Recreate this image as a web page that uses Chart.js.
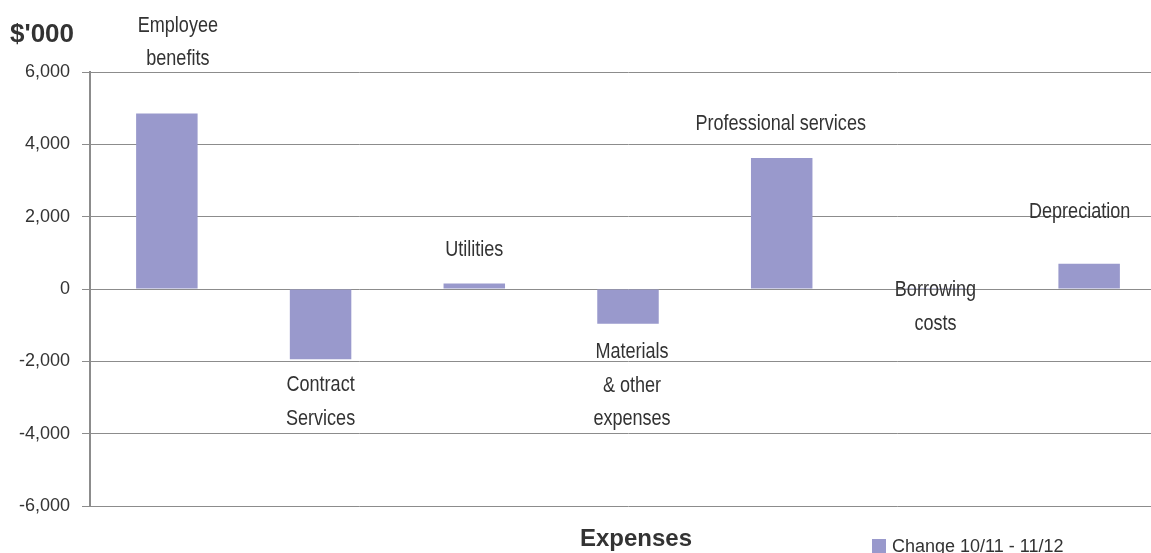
<!DOCTYPE html>
<html>
<head>
<meta charset="utf-8">
<script src="https://cdn.jsdelivr.net/npm/chart.js@4"></script>
<style>
  html, body { margin: 0; padding: 0; background: #fff; overflow: hidden; }
  #wrap { width: 1166px; height: 553px; }
</style>
</head>
<body>
<div id="wrap"><canvas id="expChart" width="1166" height="553"></canvas></div>
<script>
// expense categories and the year-on-year change ($'000)
const categories = ['Employee benefits', 'Contract Services', 'Utilities', 'Materials & other expenses',
                    'Professional services', 'Borrowing costs', 'Depreciation'];
const labelLines = [['Employee', 'benefits'], ['Contract', 'Services'], ['Utilities'],
                    ['Materials', '& other', 'expenses'], ['Professional services'],
                    ['Borrowing', 'costs'], ['Depreciation']];
const changeValues = [4850, -1940, 150, -960, 3620, 30, 700];
const yTicks = [-6000, -4000, -2000, 0, 2000, 4000, 6000];
const seriesName = 'Change 10/11 - 11/12';
const axisTitle = 'Expenses';
const unitLabel = "$'000";

const BAR_COLOR = '#9999cc';
const TEXT_COLOR = '#333';

// category labels sit next to the end of each bar; squeezed horizontally
// to get a narrow face out of the regular one
const barLabels = {
    id: 'barLabels',
    afterDatasetsDraw(chart, args, opts) {
        const ctx = chart.ctx;
        const bars = chart.getDatasetMeta(0).data;
        ctx.save();
        ctx.font = opts.font;
        ctx.fillStyle = opts.color;
        ctx.textAlign = 'center';
        ctx.textBaseline = 'middle';
        bars.forEach((bar, i) => {
            const p = opts.offsets[i];
            labelLines[i].forEach((line, k) => {
                ctx.save();
                ctx.translate(bar.x + p.dx, bar.y + p.dy + k * opts.lineHeight);
                ctx.scale(opts.squeeze, 1);
                ctx.fillText(line, 0, 0);
                ctx.restore();
            });
        });
        ctx.restore();
    }
};

// unit label, axis title and the single legend entry
const chartText = {
    id: 'chartText',
    afterDraw(chart) {
        const ctx = chart.ctx;
        ctx.save();
        ctx.fillStyle = TEXT_COLOR;
        ctx.textBaseline = 'alphabetic';

        ctx.font = 'bold 26px "Liberation Sans", Arial, sans-serif';
        ctx.textAlign = 'left';
        ctx.fillText(unitLabel, 10, 42);

        ctx.font = 'bold 24px "Liberation Sans", Arial, sans-serif';
        ctx.textAlign = 'center';
        ctx.fillText(axisTitle, 636, 546);

        ctx.fillStyle = BAR_COLOR;
        ctx.fillRect(872, 539, 14, 14);
        ctx.fillStyle = TEXT_COLOR;
        ctx.font = '18px "Liberation Sans", Arial, sans-serif';
        ctx.textAlign = 'left';
        ctx.fillText(chart.data.datasets[0].label, 892, 552);
        ctx.restore();
    }
};

new Chart(document.getElementById('expChart'), {
    type: 'bar',
    data: {
        labels: categories,
        datasets: [{
            label: seriesName,
            data: changeValues,
            backgroundColor: BAR_COLOR,
            borderWidth: 0,
            barPercentage: 0.4,
            categoryPercentage: 1
        }]
    },
    options: {
        responsive: false,
        animation: false,
        layout: { padding: { top: 72, bottom: 47, left: 0, right: 0 } },
        plugins: {
            legend: { display: false },
            tooltip: { enabled: false },
            barLabels: {
                font: '22px "Liberation Sans", Arial, sans-serif',
                squeeze: 0.82,
                color: TEXT_COLOR,
                lineHeight: 33.5,
                offsets: [
                    { dx: 11, dy: -88 },
                    { dx: 0, dy: 26 },
                    { dx: 0, dy: -33.5 },
                    { dx: 4, dy: 28.5 },
                    { dx: -1, dy: -34 },
                    { dx: 0, dy: 2.5 },
                    { dx: -9.5, dy: -51.5 }
                ]
            }
        },
        scales: {
            x: {
                display: false
            },
            y: {
                min: yTicks[0],
                max: yTicks[yTicks.length - 1],
                afterFit: (scale) => { scale.width = 90; },
                afterBuildTicks: (scale) => { scale.ticks = yTicks.map(v => ({ value: v })); },
                ticks: {
                    padding: 12,
                    color: TEXT_COLOR,
                    font: { family: '"Liberation Sans", Arial, sans-serif', size: 18 },
                    callback: (v) => v.toLocaleString('en-US')
                },
                grid: { color: '#8c8c8c', lineWidth: 1, tickLength: 8 },
                border: { color: '#8c8c8c', width: 2 }
            }
        }
    },
    plugins: [barLabels, chartText]
});
</script>
</body>
</html>
